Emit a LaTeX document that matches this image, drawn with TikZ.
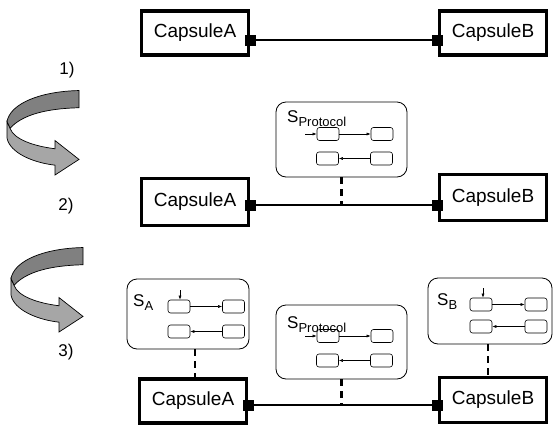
\documentclass[tikz,border=0pt]{standalone}
\usepackage{fontspec}
\setmainfont{Liberation Sans}
\usetikzlibrary{arrows.meta}
\begin{document}
\begin{tikzpicture}[x=1pt,y=-1pt,
  capsule/.style={draw,line width=3.2pt,minimum width=107pt,minimum height=44pt,inner sep=0pt,
    font=\fontsize{19}{22}\selectfont},
  port/.style={fill=black,minimum size=11pt,inner sep=0pt},
  link/.style={line width=1.8pt},
  machine/.style={draw,rounded corners=10pt,line width=0.8pt,inner sep=0pt},
  state/.style={draw,rounded corners=2.5pt,line width=0.6pt,minimum width=22pt,minimum height=13pt,inner sep=0pt},
  trans/.style={-{Latex[length=4pt,width=3pt]},line width=0.5pt},
  tie/.style={line width=2.4pt,dash pattern=on 7pt off 5pt},
  stepno/.style={font=\fontsize{17}{20}\selectfont},
  slabel/.style={anchor=base west,inner sep=0pt,font=\fontsize{17}{20}\selectfont},
  turn/.pic={
    % back face of the twisted ribbon
    \draw[line width=0.7pt,fill=black!50]
      (79,72) .. controls (40,73) and (10,88) .. (7,110)
      -- (10,118) .. controls (22,102) and (45,94) .. (79,93) -- cycle;
    % front face with the arrow head
    \draw[line width=0.7pt,fill=black!35,line join=miter]
      (7,110) -- (7,130) .. controls (10,148) and (33,160) .. (55,163)
      -- (55,175) -- (79,156) -- (55,133) -- (55,143)
      .. controls (35,140) and (14,132) .. (10,118) -- cycle;
  }]
\useasboundingbox (0,0) rectangle (558,426);

% turning arrows and step numbers
\pic[yscale=0.82] at (0,31.5) {turn};
\pic[yscale=0.82] at (4,188.5) {turn};
\node[stepno] (n1) at (67,70) {1)};
\node[stepno] (n2) at (66,206) {2)};
\node[stepno] (n3) at (66,352) {3)};

% step 1
\coordinate (l1) at (0,40);
\node[capsule] (a1) at (195,33) {CapsuleA};
\node[capsule] (b1) at (493,33) {CapsuleB};
\node[port] (pa1) at (a1.east |- l1) {};
\node[port] (pb1) at (b1.west |- l1) {};
\draw[link] (pa1.east) -- (pb1.west);

% step 2
\coordinate (l2) at (0,205);
\node[capsule,minimum height=47pt] (a2) at (195,202) {CapsuleA};
\node[capsule,minimum height=46pt] (b2) at (493,197.5) {CapsuleB};
\node[port] (pa2) at (a2.east |- l2) {};
\node[port] (pb2) at (b2.west |- l2) {};
\draw[link] (pa2.east) -- (pb2.west);

\node[machine,minimum width=131pt,minimum height=75pt] (sp2) at (341.5,139.5) {};
\node[slabel] (sp2l) at (287,122) {S\raisebox{-4pt}{\fontsize{13}{13}\selectfont Protocol}};
\node[state] (sp2a) at (328,134) {};
\node[state] (sp2b) at (382,134) {};
\node[state] (sp2c) at (327.5,158.5) {};
\node[state] (sp2d) at (381.5,158.5) {};
\coordinate (sp2i) at (305,134);
\draw[trans] (sp2i) -- (sp2a.west);
\draw[trans] (sp2a.east) -- (sp2b.west);
\draw[trans] (sp2d.west) -- (sp2c.east);
\draw[tie] (sp2.south) -- (sp2.south |- l2);

% step 3
\coordinate (l3) at (0,405);
\node[capsule,minimum height=44pt] (a3) at (193,401) {CapsuleA};
\node[capsule,minimum height=45pt] (b3) at (493,400) {CapsuleB};
\node[port] (pa3) at (a3.east |- l3) {};
\node[port] (pb3) at (b3.west |- l3) {};
\draw[link] (pa3.east) -- (pb3.west);

% protocol machine
\node[machine,minimum width=131pt,minimum height=74pt] (sp3) at (341.5,342) {};
\node[slabel] (sp3l) at (287,328) {S\raisebox{-4pt}{\fontsize{13}{13}\selectfont Protocol}};
\node[state] (sp3a) at (328,336) {};
\node[state] (sp3b) at (382,336) {};
\node[state] (sp3c) at (327.5,360.5) {};
\node[state] (sp3d) at (381.5,360.5) {};
\coordinate (sp3i) at (305,336);
\draw[trans] (sp3i) -- (sp3a.west);
\draw[trans] (sp3a.east) -- (sp3b.west);
\draw[trans] (sp3d.west) -- (sp3c.east);
\draw[tie] (sp3.south) -- (sp3.south |- l3);

% machine of CapsuleA
\node[machine,minimum width=122pt,minimum height=70pt] (sa) at (188,314) {};
\node[slabel] (sal) at (133,306) {S\raisebox{-4pt}{\fontsize{13}{13}\selectfont A}};
\node[state] (saa) at (179,306.5) {};
\node[state] (sab) at (233.5,306.5) {};
\node[state] (sac) at (179,331.5) {};
\node[state] (sad) at (233.5,331.5) {};
\coordinate (sai) at (180,290);
\draw[trans] (sai) -- (saa.north -| sai);
\draw[trans] (saa.east) -- (sab.west);
\draw[trans] (sad.west) -- (sac.east);
\draw[tie] (sa.south -| 195,0) -- (a3.north -| 195,0);

% machine of CapsuleB
\node[machine,minimum width=124pt,minimum height=66pt] (sb) at (490,311) {};
\node[slabel] (sbl) at (437,305) {S\raisebox{-4pt}{\fontsize{13}{13}\selectfont B}};
\node[state] (sba) at (481,304.5) {};
\node[state] (sbb) at (536,304.5) {};
\node[state] (sbc) at (481,326.5) {};
\node[state] (sbd) at (536,326.5) {};
\coordinate (sbi) at (483,288);
\draw[trans] (sbi) -- (sba.north -| sbi);
\draw[trans] (sba.east) -- (sbb.west);
\draw[trans] (sbd.west) -- (sbc.east);
\draw[tie] (sb.south -| 488,0) -- (b3.north -| 488,0);
\end{tikzpicture}
\end{document}
